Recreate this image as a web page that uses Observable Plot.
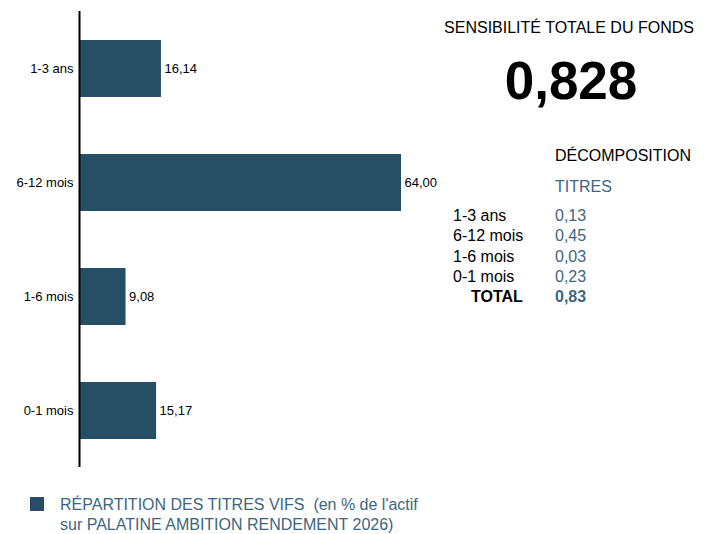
<!DOCTYPE html>
<html>
<head>
<meta charset="utf-8">
<script src="https://cdn.jsdelivr.net/npm/d3@7"></script>
<script src="https://cdn.jsdelivr.net/npm/@observablehq/plot@0.6"></script>
<style>
  body { margin: 0; background: #fff; font-family: "Liberation Sans", Arial, sans-serif; }
  #wrap { position: relative; width: 710px; height: 534px; }
  #chart { position: absolute; left: 0; top: 0; }
  .abs { position: absolute; white-space: nowrap; line-height: 1; }
</style>
</head>
<body>
<div id="wrap">
  <div id="chart"></div>
  <div id="panel"></div>
  <div id="legend"></div>
</div>
<script>
const categories = ["1-3 ans", "6-12 mois", "1-6 mois", "0-1 mois"];
const values = [16.14, 64.00, 9.08, 15.17];
const valueLabels = ["16,14", "64,00", "9,08", "15,17"];

const totalTitle = "SENSIBILITÉ TOTALE DU FONDS";
const totalValue = "0,828";
const decompTitle = "DÉCOMPOSITION";
const decompColumn = "TITRES";
const decompLabels = ["1-3 ans", "6-12 mois", "1-6 mois", "0-1 mois"];
const decompValues = ["0,13", "0,45", "0,03", "0,23"];
const decompTotalLabel = "TOTAL";
const decompTotalValue = "0,83";
const legendLines = ["RÉPARTITION DES TITRES VIFS  (en % de l'actif", "sur PALATINE AMBITION RENDEMENT 2026)"];

const barColor = "#264e64";
const blueText = "#3d6680";

const data = categories.map((c, i) => ({cat: c, v: values[i], label: valueLabels[i]}));

const chart = Plot.plot({
  width: 710,
  height: 470,
  marginLeft: 80,
  marginRight: 309,
  marginTop: 11,
  marginBottom: 3,
  style: {fontFamily: '"Liberation Sans", Arial, sans-serif', fontSize: "13px", color: "#000", background: "#fff"},
  x: {domain: [0, 64], axis: null},
  y: {domain: categories, paddingInner: 0.5, paddingOuter: 0.25, label: null, tickSize: 0, tickPadding: 7},
  marks: [
    Plot.barX(data, {x: "v", y: "cat", fill: barColor}),
    Plot.text(data, {x: "v", y: "cat", text: "label", textAnchor: "start", dx: 3, fill: "#000", fontSize: 13}),
    Plot.ruleX([0], {stroke: "#000", strokeWidth: 2, dx: -1})
  ]
});
document.getElementById("chart").appendChild(chart);

// Right panel
const panel = document.getElementById("panel");
function addText(txt, left, top, opts = {}) {
  const d = document.createElement("div");
  d.className = "abs";
  d.textContent = txt;
  d.style.left = left + "px";
  d.style.top = top + "px";
  d.style.fontSize = (opts.size || 16) + "px";
  d.style.color = opts.color || "#000";
  if (opts.bold) d.style.fontWeight = "bold";
  if (opts.center) { d.style.transform = "translateX(-50%)"; }
  panel.appendChild(d);
  return d;
}
addText(totalTitle, 569, 20, {size: 16, center: true});
addText(totalValue, 571, 54, {size: 53, bold: true, center: true});
addText(decompTitle, 555, 148, {size: 16});
addText(decompColumn, 555, 179, {size: 16, color: blueText});
decompLabels.forEach((l, i) => {
  const top = 208 + i * 20.3;
  addText(l, 453, top, {size: 16});
  addText(decompValues[i], 555, top, {size: 16, color: blueText});
});
addText(decompTotalLabel, 471, 289, {size: 16, bold: true});
addText(decompTotalValue, 555, 289, {size: 16, bold: true, color: blueText});

// Legend
const legend = document.getElementById("legend");
const sw = document.createElement("div");
sw.className = "abs";
Object.assign(sw.style, {left: "30px", top: "497px", width: "14px", height: "14px", background: barColor});
legend.appendChild(sw);
legendLines.forEach((t, i) => {
  const d = document.createElement("div");
  d.className = "abs";
  d.textContent = t;
  Object.assign(d.style, {left: "60px", top: (497 + i * 20) + "px", fontSize: "16px", color: blueText, whiteSpace: "pre"});
  legend.appendChild(d);
});
</script>
</body>
</html>
